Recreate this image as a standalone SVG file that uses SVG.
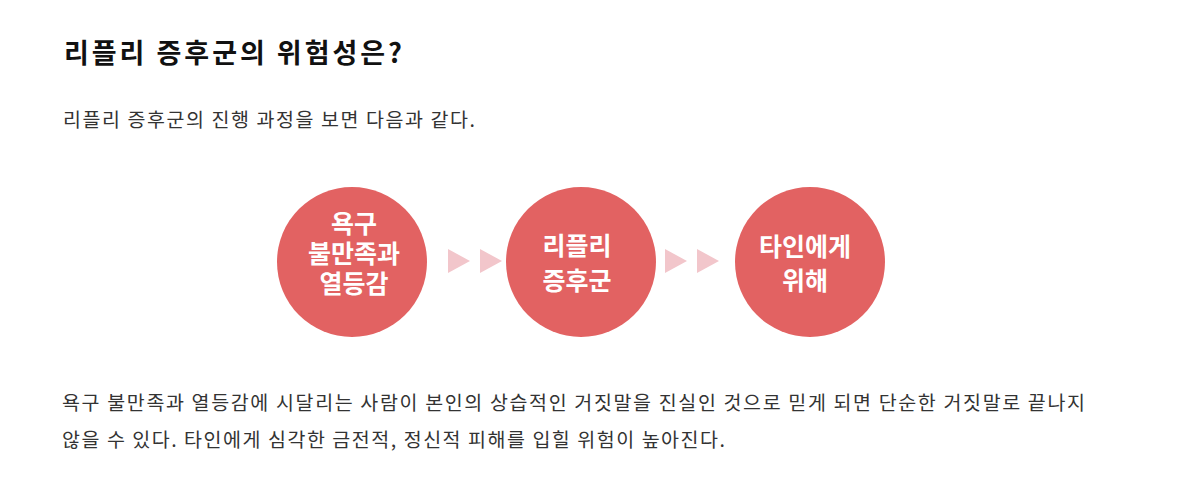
<svg xmlns="http://www.w3.org/2000/svg" width="1200" height="483" viewBox="0 0 1200 483">
<style>
.title{font-family:"Noto Sans CJK KR","Noto Sans",sans-serif;font-size:27px;font-weight:700;fill:#111}
.body{font-family:"Noto Sans CJK KR","Noto Sans",sans-serif;font-size:19.5px;fill:#333}
.node circle{fill:#e26262}
.node text{font-family:"Noto Sans CJK KR","Noto Sans",sans-serif;font-size:25px;font-weight:700;fill:#fff;text-anchor:middle}
.arrow{fill:#f2c6cb}
</style>
<rect width="1200" height="483" fill="#fff"/>
<text class="title" x="64" y="63" textLength="338" lengthAdjust="spacing">리플리 증후군의 위험성은?</text>
<text class="body" x="63" y="127" textLength="412" lengthAdjust="spacing">리플리 증후군의 진행 과정을 보면 다음과 같다.</text>
<g id="node1" class="node">
<circle cx="352" cy="262" r="75"/>
<text x="354" y="233">욕구<tspan x="354" dy="30">불만족과</tspan><tspan x="354" dy="30">열등감</tspan></text>
</g>
<g id="node2" class="node">
<circle cx="581" cy="262" r="75"/>
<text x="577" y="255">리플리<tspan x="577" dy="35">증후군</tspan></text>
</g>
<g id="node3" class="node">
<circle cx="810" cy="262" r="75"/>
<text x="805" y="256">타인에게<tspan x="805" dy="34">위해</tspan></text>
</g>
<g id="connectors">
<polygon class="arrow" points="448,249 470,261 448,273"/>
<polygon class="arrow" points="480,249 502,261 480,273"/>
<polygon class="arrow" points="665,249 687,261 665,273"/>
<polygon class="arrow" points="697,249 719,261 697,273"/>
</g>
<text class="body" x="62" y="410" textLength="1023" lengthAdjust="spacing">욕구 불만족과 열등감에 시달리는 사람이 본인의 상습적인 거짓말을 진실인 것으로 믿게 되면 단순한 거짓말로 끝나지</text>
<text class="body" x="62" y="447" textLength="663" lengthAdjust="spacing">않을 수 있다. 타인에게 심각한 금전적, 정신적 피해를 입힐 위험이 높아진다.</text>
</svg>
